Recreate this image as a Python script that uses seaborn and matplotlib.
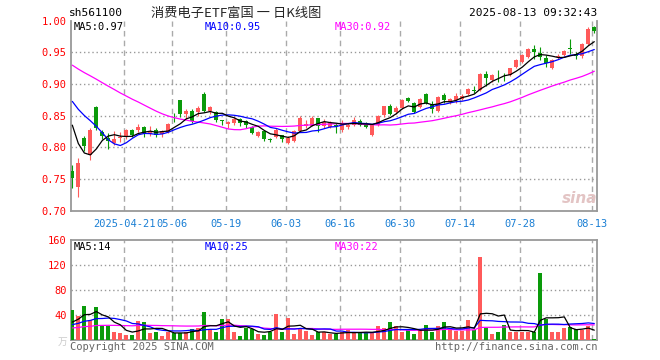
import matplotlib
matplotlib.use("Agg")
import matplotlib.pyplot as plt
import seaborn as sns
import numpy as np
import pandas as pd

# ---- data (sh561100, daily K) ----
open_ = [0.763, 0.738, 0.815, 0.788, 0.864, 0.824, 0.815, 0.807, 0.814, 0.8167,
         0.828, 0.828, 0.832, 0.8214, 0.828, 0.821, 0.8245, 0.853, 0.874, 0.852,
         0.858, 0.856, 0.884, 0.857, 0.856, 0.8425, 0.8375, 0.8385, 0.845, 0.841,
         0.832, 0.818, 0.8255, 0.8125, 0.8167, 0.820, 0.807, 0.810, 0.8255, 0.8333,
         0.834, 0.846, 0.8333, 0.8323, 0.836, 0.827, 0.832, 0.835, 0.8417, 0.8386,
         0.819, 0.835, 0.8505, 0.8646, 0.8557, 0.8625, 0.878, 0.870, 0.8636, 0.884,
         0.867, 0.8567, 0.883, 0.871, 0.875, 0.8766, 0.884, 0.8906, 0.8906, 0.9156,
         0.906, 0.9145, 0.913, 0.914, 0.927, 0.935, 0.9427, 0.9557, 0.9495, 0.9417,
         0.9245, 0.942, 0.9453, 0.9557, 0.948, 0.9437, 0.9636, 0.9896]
high_ = [0.772, 0.783, 0.818, 0.830, 0.865, 0.828, 0.823, 0.826, 0.824, 0.829,
         0.829, 0.8375, 0.834, 0.833, 0.831, 0.827, 0.8386, 0.854, 0.875, 0.861,
         0.860, 0.8646, 0.887, 0.866, 0.857, 0.843, 0.8417, 0.848, 0.847, 0.843,
         0.833, 0.826, 0.8265, 0.815, 0.8307, 0.820, 0.8177, 0.827, 0.849, 0.8437,
         0.850, 0.847, 0.845, 0.841, 0.8386, 0.8427, 0.838, 0.848, 0.845, 0.840,
         0.836, 0.851, 0.866, 0.869, 0.866, 0.876, 0.879, 0.8714, 0.878, 0.886,
         0.8724, 0.881, 0.8865, 0.878, 0.8855, 0.884, 0.894, 0.897, 0.917, 0.921,
         0.916, 0.922, 0.9177, 0.926, 0.939, 0.948, 0.957, 0.961, 0.958, 0.946,
         0.939, 0.947, 0.953, 0.9714, 0.950, 0.964, 0.990, 0.992]
low_ = [0.736, 0.722, 0.794, 0.780, 0.828, 0.8125, 0.798, 0.804, 0.808, 0.8136,
        0.817, 0.824, 0.817, 0.8177, 0.816, 0.8167, 0.823, 0.840, 0.848, 0.845,
        0.838, 0.849, 0.856, 0.853, 0.840, 0.835, 0.8297, 0.835, 0.834, 0.831,
        0.8215, 0.816, 0.8095, 0.809, 0.815, 0.809, 0.8047, 0.808, 0.824, 0.8307,
        0.833, 0.8245, 0.8307, 0.830, 0.823, 0.8245, 0.829, 0.833, 0.833, 0.8297,
        0.8177, 0.834, 0.848, 0.8505, 0.853, 0.861, 0.8714, 0.854, 0.862, 0.868,
        0.854, 0.855, 0.870, 0.869, 0.870, 0.875, 0.882, 0.8855, 0.889, 0.897,
        0.903, 0.9036, 0.905, 0.912, 0.925, 0.933, 0.941, 0.940, 0.938, 0.927,
        0.923, 0.940, 0.944, 0.948, 0.940, 0.941, 0.962, 0.980]
close_ = [0.751, 0.775, 0.802, 0.828, 0.831, 0.818, 0.810, 0.8125, 0.8167, 0.828,
          0.820, 0.832, 0.823, 0.8245, 0.819, 0.8255, 0.8365, 0.852, 0.853, 0.858,
          0.841, 0.8625, 0.858, 0.8636, 0.843, 0.8415, 0.840, 0.845, 0.838, 0.835,
          0.823, 0.8245, 0.8125, 0.8115, 0.8266, 0.8125, 0.815, 0.8255, 0.8464, 0.8375,
          0.846, 0.8333, 0.8396, 0.8386, 0.833, 0.8386, 0.836, 0.8427, 0.835, 0.832,
          0.835, 0.850, 0.8646, 0.853, 0.8625, 0.874, 0.873, 0.856, 0.8766, 0.870,
          0.860, 0.880, 0.874, 0.876, 0.881, 0.8817, 0.892, 0.8895, 0.9156, 0.910,
          0.914, 0.9135, 0.912, 0.9245, 0.9375, 0.946, 0.9557, 0.9505, 0.9427, 0.9333,
          0.9375, 0.945, 0.9516, 0.955, 0.9443, 0.9636, 0.987, 0.9844]
volume = [49, 38.4, 55.5, 33, 53.3, 22.4, 22.4, 13.9, 11.7, 9,
          8.5, 31.5, 29.9, 11.7, 13.9, 7.5, 13.9, 11.7, 11.7, 13.9,
          18.1, 20.3, 45.9, 18.1, 13.9, 34.7, 34.7, 12.8, 7.5, 19.2,
          18.1, 10.7, 9, 12.8, 42, 12.8, 36.3, 10.7, 18.1, 14.4,
          9, 12.8, 12.8, 10.7, 9.6, 12.8, 16, 11.7, 12.8, 11.7,
          11.7, 22.4, 20.3, 28.8, 23.5, 12.8, 17, 10.7, 16, 25,
          12.8, 23.5, 28.8, 18.1, 14.4, 14.4, 32, 17, 132.8, 19.2,
          10.7, 13.9, 25, 12.8, 13.9, 12.8, 12.8, 12.8, 106.7, 34.1,
          12.8, 13.9, 19.2, 20.8, 18.1, 17, 22.4, 2.7]

# sessions before the window (not drawn), estimated from where the MA lines start
prior_close = [0.96, 0.97, 0.98, 0.99, 0.985, 0.975, 0.97, 0.98, 0.975, 0.97,
               0.965, 0.97, 0.97, 0.962, 0.95, 0.94, 0.93, 0.92, 0.905, 0.90,
               0.90, 0.90, 0.91, 0.92, 0.92, 0.92, 0.877, 0.843, 0.784]
prior_volume = [14, 16, 18, 15, 17, 19, 16, 18, 17, 15, 16, 18, 20, 17, 16, 18, 17, 19, 18, 17,
                18, 22, 20, 24, 21, 15, 20, 30, 31]

tick_idx = [9, 17, 26, 36, 45, 55, 65, 75, 87]
tick_labels = ["2025-04-21", "05-06", "05-19", "06-03", "06-16", "06-30", "07-14", "07-28", "08-13"]
price_ticks = [0.70, 0.75, 0.80, 0.85, 0.90, 0.95, 1.00]
vol_ticks = [40, 80, 120, 160]

RED = "#ff5a5a"
GREEN = "#0a9a0a"
GRID = "#aaaaaa"
W, H = 660, 360

sns.set_theme(style="white")
plt.rcParams['font.family'] = ['DejaVu Sans Mono', 'Noto Sans CJK SC']

df = pd.DataFrame({"o": open_, "h": high_, "l": low_, "c": close_, "v": volume})
df["x"] = np.arange(len(df))
up = df["c"] >= df["o"]
colors = np.where(up, RED, GREEN)

all_close = pd.Series(prior_close + close_)
all_vol = pd.Series(prior_volume + volume)
n0 = len(prior_close)
for k in (5, 10, 30):
    df[f"ma{k}"] = all_close.rolling(k).mean().iloc[n0:].values
    df[f"vma{k}"] = all_vol.rolling(k).mean().iloc[n0:].values


def px_axes(fig, x0, y0, x1, y1):
    return fig.add_axes([x0 / W, 1 - y1 / H, (x1 - x0) / W, (y1 - y0) / H])


fig = plt.figure(figsize=(W / 100, H / 100), dpi=100)
fig.patch.set_facecolor("white")
ax = px_axes(fig, 70.7, 20.7, 597.3, 210.6)
axv = px_axes(fig, 70.7, 240.0, 597.3, 340.3)

xlim = (-0.27, 87.5)
ticks = [t - 0.35 for t in tick_idx]

# candles
ax.vlines(df["x"], df["l"], df["h"], colors=colors, lw=0.8, zorder=3)
body = np.maximum((df["c"] - df["o"]).abs(), 0.0013)
ax.bar(df["x"], body, bottom=np.minimum(df["o"], df["c"]), width=0.72,
       color=colors, linewidth=0, zorder=4)
for col, c in (("ma30", "#ff00ff"), ("ma10", "#0000ff"), ("ma5", "black")):
    sns.lineplot(x=df["x"], y=df[col], color=c, lw=0.9, ax=ax, zorder=5)

# volume
axv.bar(df["x"], df["v"], width=0.72, color=colors, linewidth=0, zorder=3)
for col, c in (("vma30", "#ff00ff"), ("vma10", "#0000ff"), ("vma5", "black")):
    sns.lineplot(x=df["x"], y=df[col], color=c, lw=0.9, ax=axv, zorder=5)

for a in (ax, axv):
    a.set_xlim(*xlim)
    a.set_xticks(ticks)
    a.set_xlabel("")
    a.set_ylabel("")
    a.grid(False)
    for t in ticks:
        a.axvline(t, color=GRID, lw=1.0, ls=(0, (4, 3)), zorder=1)
    for s in a.spines.values():
        s.set_color("#999999")
        s.set_linewidth(1.3)
    a.tick_params(length=0, pad=3, labelsize=7.5)

ax.spines["top"].set_visible(False)
ax.set_ylim(0.70, 1.00)
ax.set_yticks(price_ticks)
ax.set_yticklabels([f"{v:.2f}" for v in price_ticks], color="red")
for v in price_ticks[1:-1]:
    ax.axhline(v, color="#999999", lw=1.0, ls=(0, (1, 2)), zorder=1)
ax.set_xticklabels(tick_labels, color="#1a7fd4")
ax.tick_params(axis="x", pad=6)

axv.set_ylim(0, 160)
axv.set_yticks(vol_ticks)
axv.set_yticklabels([str(v) for v in vol_ticks], color="red")
for v in vol_ticks[:-1]:
    axv.axhline(v, color="#999999", lw=1.0, ls=(0, (1, 2)), zorder=1)
axv.set_xticklabels([])


def txt(x, y, s, **kw):
    kw.setdefault("fontsize", 7.5)
    kw.setdefault("va", "center")
    fig.text(x / W, 1 - y / H, s, **kw)


# header
txt(69, 13, "sh561100", color="black", fontsize=8)
txt(236, 13, "消费电子ETF富国 一 日K线图", ha="center", fontsize=9.5,
    family=["Noto Sans CJK SC", "DejaVu Sans"])
txt(597, 13, "2025-08-13 09:32:43", ha="right", color="black", fontsize=8)

# MA legends
txt(74, 27, "MA5:0.97", color="black")
txt(205, 27, "MA10:0.95", color="#0000ff")
txt(335, 27, "MA30:0.92", color="#ff00ff")
txt(74, 247, "MA5:14", color="black")
txt(205, 247, "MA10:25", color="#0000ff")
txt(335, 247, "MA30:22", color="#ff00ff")

# footer & watermark
txt(70, 347, "Copyright 2025 SINA.COM", color="#666666")
txt(597, 347, "http://finance.sina.com.cn", ha="right", color="#666666")
txt(63, 342, "万", color="#cccccc", fontsize=7, ha="center",
    family=["Noto Sans CJK SC", "DejaVu Sans"])
txt(580, 198, "sina", ha="center", color="#e3c4c4", fontsize=11,
    fontstyle="italic", fontweight="bold", family=["DejaVu Sans"])

fig.savefig("out.png", dpi=100, facecolor="white")
